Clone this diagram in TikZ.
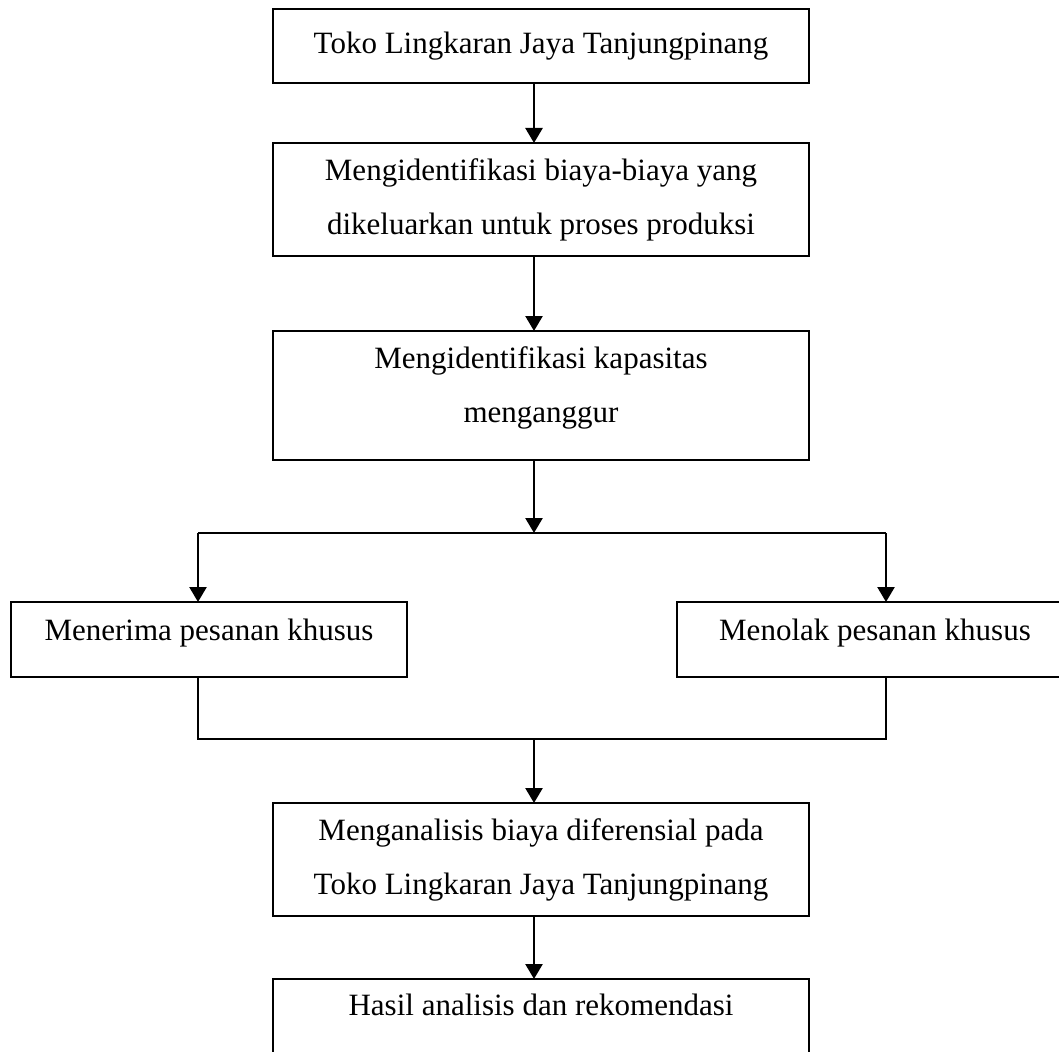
\documentclass[tikz,border=0pt]{standalone}
\usepackage{fontspec}
\setmainfont{Liberation Serif}
\usepackage{tikz}
\usetikzlibrary{arrows.meta, positioning}

\tikzset{
    box/.style={draw, line width=1pt, inner sep=0pt, outer sep=0pt, align=center, font=\fontsize{12.4}{21.6}\selectfont},
    widebox/.style={box, minimum width=214.4pt},
    sidebox/.style={box, minimum width=158.4pt, minimum height=30pt, text depth=8pt},
    arr/.style={-{Triangle[width=6.8pt,length=6pt]}, line width=1pt},
    link/.style={line width=1pt}
}

\begin{document}
\begin{tikzpicture}[x=0.4pt, y=-0.4pt]
    \useasboundingbox (0,0) rectangle (1059,1052);
    \clip (0,0) rectangle (1059,1052);

    % main column
    \node[widebox, minimum height=29.6pt] (toko) at (541,46) {Toko Lingkaran Jaya Tanjungpinang};
    \node[widebox, minimum height=45.2pt] (biaya) at (541,199.5) {Mengidentifikasi biaya-biaya yang\\ dikeluarkan untuk proses produksi};
    \node[widebox, minimum height=51.6pt, text depth=9pt] (kapasitas) at (541,395.5) {Mengidentifikasi kapasitas\\ menganggur};

    % two choices
    \node[sidebox] (terima) at (209,639.5) {Menerima pesanan khusus};
    \node[sidebox] (tolak) at (875,639.5) {Menolak pesanan khusus};

    \node[widebox, minimum height=45.2pt] (analisis) at (541,859.5) {Menganalisis biaya diferensial pada\\ Toko Lingkaran Jaya Tanjungpinang};
    \node[widebox, minimum height=45.2pt, text depth=24.6pt] (hasil) at (541,1035.5) {Hasil analisis dan rekomendasi};

    % connectors
    \coordinate (spine) at (534,0);
    \coordinate (split) at (534,533);
    \coordinate (splitL) at (198,533);
    \coordinate (splitR) at (886,533);
    \coordinate (joinL) at (198,739);
    \coordinate (joinR) at (886,739);
    \coordinate (join) at (534,739);

    \draw[arr] (toko.south -| spine) -- (biaya.north -| spine);
    \draw[arr] (biaya.south -| spine) -- (kapasitas.north -| spine);
    \draw[arr] (kapasitas.south -| spine) -- (split);
    \draw[link] (splitL) -- (splitR);
    \draw[arr] (splitL) -- (terima.north -| splitL);
    \draw[arr] (splitR) -- (tolak.north -| splitR);
    \draw[link] (terima.south -| joinL) -- (joinL) -- (joinR) -- (tolak.south -| joinR);
    \draw[arr] (join) -- (analisis.north -| spine);
    \draw[arr] (analisis.south -| spine) -- (hasil.north -| spine);
\end{tikzpicture}
\end{document}
